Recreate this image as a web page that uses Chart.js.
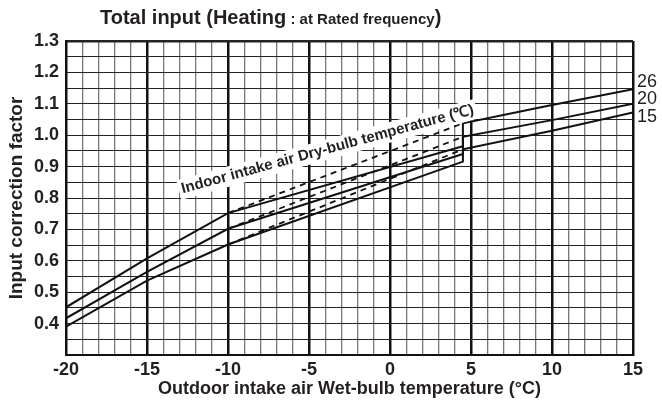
<!DOCTYPE html>
<html>
<head>
<meta charset="utf-8">
<script src="https://cdn.jsdelivr.net/npm/chart.js@4.4.1/dist/chart.umd.min.js"></script>
<style>
html, body { margin: 0; padding: 0; background: #fff; }
#wrap { position: relative; width: 662px; height: 405px; }
#title { position: absolute; left: 100px; top: 6px; white-space: nowrap;
         font-family: "Liberation Sans", Arial, sans-serif; font-weight: bold; color: #231f20; }
#title .big { font-size: 20px; }
#title .small { font-size: 15px; }
</style>
</head>
<body>
<div id="wrap">
  <canvas id="chart" width="662" height="405"></canvas>
  <div id="title"><span class="big">Total input (Heating</span><span class="small"> : at Rated frequency</span><span class="big">)</span></div>
</div>
<script>
// indoor dry-bulb temperature curves (solid), break at 4.5 where they jump up
const xSolid = [-20, -15, -10, 4.5, 4.5, 10, 15];
const solid26 = [0.452, 0.608, 0.752, 0.965, 1.038, 1.096, 1.146];
const solid20 = [0.417, 0.565, 0.702, 0.940, 0.995, 1.048, 1.100];
const solid15 = [0.390, 0.537, 0.652, 0.916, 0.955, 1.014, 1.072];

// dashed lines (without defrost), -10 to 4.5
const xDashed = [-10, 4.5];
const dashed26 = [0.752, 1.038];
const dashed20 = [0.702, 0.995];
const dashed15 = [0.652, 0.955];

const indoorTemps = ['26', '20', '15'];
const tempLabelY = [1.169, 1.115, 1.058];

const note = 'Indoor intake air Dry-bulb temperature (\u2103)';
const noteAt = [-3.85, 0.955];

const font = '"Liberation Sans", Arial, sans-serif';
const textColor = '#231f20';

function pts(xs, ys) {
    return xs.map((x, i) => ({ x: x, y: ys[i] }));
}

function solid(ys) {
    return { data: pts(xSolid, ys), borderColor: '#111', borderWidth: 2, pointRadius: 0, fill: false };
}

function dashed(ys) {
    return { data: pts(xDashed, ys), borderColor: '#111', borderWidth: 1.8, borderDash: [6, 5], pointRadius: 0, fill: false };
}

const extraText = {
    id: 'extraText',
    afterDatasetsDraw(chart) {
        const ctx = chart.ctx;
        const x = chart.scales.x, y = chart.scales.y;
        ctx.save();
        ctx.font = '18px ' + font;
        ctx.fillStyle = textColor;
        ctx.textBaseline = 'middle';
        ctx.textAlign = 'left';
        indoorTemps.forEach((t, i) => {
            ctx.fillText(t, chart.chartArea.right + 4, y.getPixelForValue(tempLabelY[i]));
        });

        // slanted note with white backing
        ctx.translate(x.getPixelForValue(noteAt[0]), y.getPixelForValue(noteAt[1]));
        ctx.rotate(-15.3 * Math.PI / 180);
        ctx.font = 'bold 15px ' + font;
        const w = ctx.measureText(note).width;
        ctx.fillStyle = '#fff';
        ctx.fillRect(-w / 2 - 3, -10, w + 6, 20);
        ctx.fillStyle = textColor;
        ctx.textAlign = 'center';
        ctx.fillText(note, 0, 0);
        ctx.restore();
    }
};

new Chart(document.getElementById('chart').getContext('2d'), {
    type: 'line',
    data: {
        datasets: [
            solid(solid26), solid(solid20), solid(solid15),
            dashed(dashed26), dashed(dashed20), dashed(dashed15)
        ]
    },
    options: {
        responsive: false,
        animation: false,
        layout: { padding: { left: 0, right: 29, top: 41, bottom: 0 } },
        plugins: {
            legend: { display: false },
            tooltip: { enabled: false }
        },
        scales: {
            x: {
                type: 'linear',
                min: -20,
                max: 15,
                afterFit: (s) => { s.height = 50; },
                ticks: {
                    stepSize: 1,
                    autoSkip: false,
                    maxRotation: 0,
                    padding: 4,
                    color: textColor,
                    font: { family: font, size: 18, weight: 'bold' },
                    callback: (v) => (v % 5 === 0 ? String(v) : '')
                },
                grid: {
                    drawTicks: false,
                    color: (c) => (c.tick && c.tick.value % 5 === 0 ? '#111' : '#777'),
                    lineWidth: (c) => (c.tick && c.tick.value % 5 === 0 ? 2.5 : 1.3)
                },
                border: { color: '#111', width: 2 },
                title: {
                    display: true,
                    text: 'Outdoor intake air Wet-bulb temperature (°C)',
                    color: textColor,
                    font: { family: font, size: 18, weight: 'bold' },
                    padding: { top: 0, bottom: 5 }
                }
            },
            y: {
                min: 0.3,
                max: 1.3,
                afterFit: (s) => { s.width = 66; },
                ticks: {
                    stepSize: 0.05,
                    autoSkip: false,
                    padding: 7,
                    color: textColor,
                    font: { family: font, size: 18, weight: 'bold' },
                    callback: (v) => {
                        const k = Math.round(v * 100);
                        return (k % 10 === 0 && k >= 40) ? (k / 100).toFixed(1) : '';
                    }
                },
                grid: {
                    drawTicks: false,
                    color: '#222',
                    lineWidth: (c) => {
                        const k = c.tick ? Math.round(c.tick.value * 100) : 0;
                        return k === 130 ? 2.5 : 1;
                    }
                },
                border: { color: '#111', width: 2 },
                title: {
                    display: true,
                    text: 'Input correction factor',
                    color: textColor,
                    font: { family: font, size: 19, weight: 'bold' },
                    padding: { top: 5, bottom: 0 }
                }
            }
        }
    },
    plugins: [extraText]
});
</script>
</body>
</html>
